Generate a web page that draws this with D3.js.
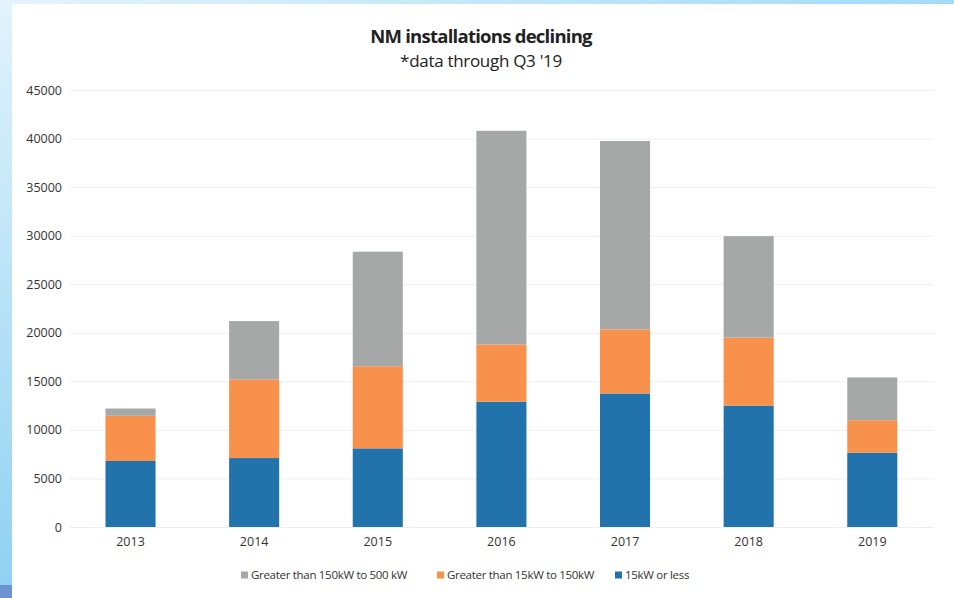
<!DOCTYPE html>
<html>
<head>
<meta charset="utf-8">
<script src="https://cdn.jsdelivr.net/npm/d3@7.9.0/dist/d3.min.js"></script>
<style>
  html, body { margin: 0; padding: 0; background: #fff; }
  svg { display: block; font-family: "Open Sans", "Liberation Sans", sans-serif; }
</style>
</head>
<body>
<svg id="chart" width="954" height="598"></svg>
<script>
// data
const years = ["2013", "2014", "2015", "2016", "2017", "2018", "2019"];
const small = [6800, 7100, 8100, 12900, 13750, 12500, 7650];      // 15kW or less
const medium = [4650, 8100, 8450, 5900, 6600, 7000, 3350];        // >15kW to 150kW
const large = [750, 6000, 11800, 22000, 19400, 10450, 4400];      // >150kW to 500kW
const yTicks = [0, 5000, 10000, 15000, 20000, 25000, 30000, 35000, 40000, 45000];

const seriesNames = ["15kW or less", "Greater than 15kW to 150kW", "Greater than 150kW to 500 kW"];
const colors = ["#2273ac", "#f8914c", "#a6a8a8"];
const legendOrder = [2, 1, 0];

const rows = years.map((y, i) => ({ year: y, s0: small[i], s1: medium[i], s2: large[i] }));

const svg = d3.select("#chart");

// scanned page edges
const defs = svg.append("defs");
const lg = defs.append("linearGradient").attr("id", "edge").attr("x1", 0).attr("y1", 0).attr("x2", 0).attr("y2", 1);
lg.append("stop").attr("offset", "0").attr("stop-color", "#e2f3fc");
lg.append("stop").attr("offset", "1").attr("stop-color", "#8ed1f2");
const tg = defs.append("linearGradient").attr("id", "topedge").attr("x1", 0).attr("y1", 0).attr("x2", 1).attr("y2", 0);
tg.append("stop").attr("offset", "0").attr("stop-color", "#e4f4fc");
tg.append("stop").attr("offset", "1").attr("stop-color", "#a2dbf6");
svg.append("rect").attr("x", 0).attr("y", 0).attr("width", 954).attr("height", 4).attr("fill", "url(#topedge)");
svg.append("rect").attr("x", 0).attr("y", 0).attr("width", 12).attr("height", 598).attr("fill", "url(#edge)");
svg.append("rect").attr("x", 0).attr("y", 585).attr("width", 12).attr("height", 13).attr("fill", "#6e93d2");

const x = d3.scaleBand().domain(years).range([68.7, 934.1]).paddingInner(0.595).paddingOuter(0.2975);
const y = d3.scaleLinear().domain([0, 45000]).range([527, 90]);

// gridlines
svg.append("g")
  .selectAll("line")
  .data(yTicks)
  .join("line")
  .attr("x1", 70).attr("x2", 934)
  .attr("y1", d => y(d) + 0.5).attr("y2", d => y(d) + 0.5)
  .attr("stroke", "#efefef").attr("stroke-width", 1);

// y axis labels
const yAxis = d3.axisLeft(y).tickValues(yTicks).tickSize(0).tickPadding(0).tickFormat(d3.format("d"));
svg.append("g")
  .attr("transform", "translate(62,0)")
  .call(yAxis)
  .call(g => g.select(".domain").remove())
  .selectAll("text")
  .attr("font-size", 12.5).attr("fill", "#333").attr("font-family", "Open Sans, sans-serif");

// stacked bars
const stack = d3.stack().keys(["s0", "s1", "s2"]);
const stacked = stack(rows);
svg.append("g")
  .selectAll("g")
  .data(stacked)
  .join("g")
  .attr("fill", (d, i) => colors[i])
  .selectAll("rect")
  .data(d => d)
  .join("rect")
  .attr("x", d => x(d.data.year))
  .attr("width", x.bandwidth())
  .attr("y", d => y(d[1]))
  .attr("height", d => y(d[0]) - y(d[1]));

// x axis labels
const xAxis = d3.axisBottom(x).tickSize(0).tickPadding(0);
svg.append("g")
  .attr("transform", "translate(0,537)")
  .call(xAxis)
  .call(g => g.select(".domain").remove())
  .selectAll("text")
  .attr("font-size", 12.5).attr("fill", "#333").attr("font-family", "Open Sans, sans-serif");

// title
svg.append("text").attr("x", 481).attr("y", 43).attr("text-anchor", "middle")
  .attr("font-size", 18.5).attr("font-weight", "bold").attr("fill", "#222")
  .style("letter-spacing", "-0.75px")
  .text("NM installations declining");
svg.append("text").attr("x", 481).attr("y", 67).attr("text-anchor", "middle")
  .attr("font-size", 17).attr("fill", "#222")
  .style("letter-spacing", "-0.3px")
  .text("*data through Q3 '19");

// legend
const legendX = [241, 437, 615];
const leg = svg.append("g").selectAll("g")
  .data(legendOrder)
  .join("g")
  .attr("transform", (d, i) => `translate(${legendX[i]},575)`);
leg.append("rect").attr("x", 0).attr("y", -3.5).attr("width", 7).attr("height", 7).attr("fill", d => colors[d]);
leg.append("text").attr("x", 10).attr("y", 4.3)
  .attr("font-size", 11.5).attr("fill", "#333")
  .style("letter-spacing", "-0.3px")
  .text(d => seriesNames[d]);
</script>
</body>
</html>
